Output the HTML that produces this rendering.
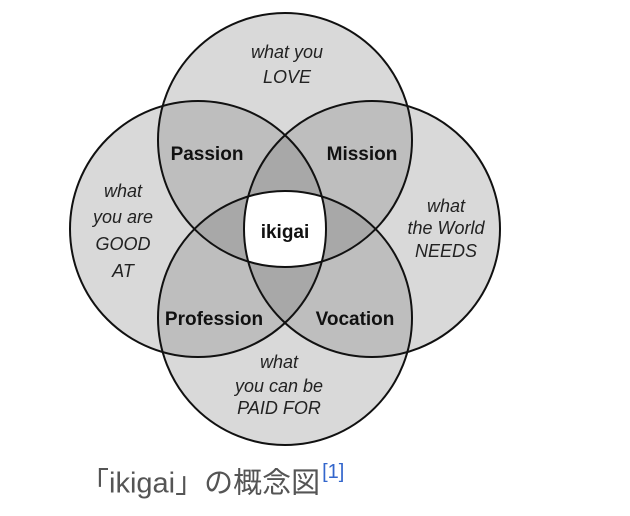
<!DOCTYPE html>
<html><head><meta charset="utf-8"><style>
html,body{margin:0;padding:0;background:#fff;width:630px;height:516px;overflow:hidden}
svg{position:absolute;left:0;top:0}
.cap{position:absolute;left:80px;top:458px;font-family:"Liberation Sans","Noto Sans CJK JP",sans-serif;font-size:29px;line-height:36px;color:#555;white-space:nowrap}
.cap sup{color:#3366cc;font-size:20px;position:relative;top:-4px;margin-left:2px}
</style></head><body>
<svg width="630" height="516" viewBox="0 0 630 516">
<defs>
<clipPath id="T"><circle cx="285" cy="140" r="127"/></clipPath>
<clipPath id="B"><circle cx="285" cy="318" r="127"/></clipPath>
<clipPath id="L"><circle cx="198" cy="229" r="128"/></clipPath>
<clipPath id="R"><circle cx="372" cy="229" r="128"/></clipPath>
</defs>
<g fill="#d9d9d9">
<circle cx="285" cy="140" r="127"/><circle cx="285" cy="318" r="127"/>
<circle cx="198" cy="229" r="128"/><circle cx="372" cy="229" r="128"/>
</g>
<g fill="#bebebe">
<g clip-path="url(#T)"><circle cx="198" cy="229" r="128"/><circle cx="372" cy="229" r="128"/><circle cx="285" cy="318" r="127"/></g>
<g clip-path="url(#B)"><circle cx="198" cy="229" r="128"/><circle cx="372" cy="229" r="128"/></g>
<g clip-path="url(#L)"><circle cx="372" cy="229" r="128"/></g>
</g>
<g fill="#a8a8a8">
<g clip-path="url(#T)"><g clip-path="url(#L)"><circle cx="372" cy="229" r="128"/><circle cx="285" cy="318" r="127"/></g></g>
<g clip-path="url(#B)"><g clip-path="url(#R)"><circle cx="198" cy="229" r="128"/><circle cx="285" cy="140" r="127"/></g></g>
</g>
<g clip-path="url(#T)"><g clip-path="url(#B)"><g clip-path="url(#L)"><circle cx="372" cy="229" r="128" fill="#fff"/></g></g></g>
<g fill="none" stroke="#111" stroke-width="2">
<circle cx="285" cy="140" r="127"/><circle cx="285" cy="318" r="127"/>
<circle cx="198" cy="229" r="128"/><circle cx="372" cy="229" r="128"/>
</g>
<g font-family="Liberation Sans, sans-serif" text-anchor="middle" fill="#111">
<g font-weight="bold" font-size="19">
<text x="207" y="160">Passion</text>
<text x="362" y="160">Mission</text>
<text x="285" y="238">ikigai</text>
<text x="214" y="325">Profession</text>
<text x="355" y="325">Vocation</text>
</g>
<g font-style="italic" font-size="18" fill="#222">
<text x="287" y="58">what you</text>
<text x="287" y="83">LOVE</text>
<text x="123" y="197">what</text>
<text x="123" y="223">you are</text>
<text x="123" y="250">GOOD</text>
<text x="123" y="277">AT</text>
<text x="446" y="212">what</text>
<text x="446" y="234">the World</text>
<text x="446" y="257">NEEDS</text>
<text x="279" y="368">what</text>
<text x="279" y="392">you can be</text>
<text x="279" y="414">PAID FOR</text>
</g>
</g>
</svg>
<div class="cap">「ikigai」の概念図<sup>[1]</sup></div>
</body></html>
